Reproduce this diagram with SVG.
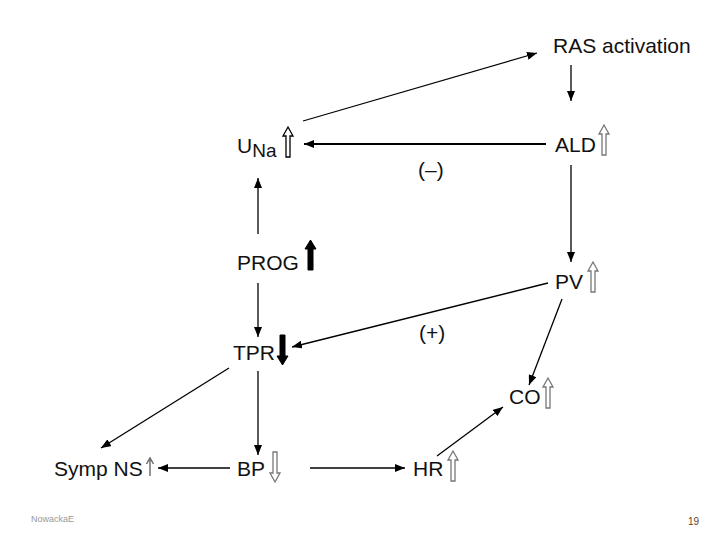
<svg xmlns="http://www.w3.org/2000/svg" xmlns:xlink="http://www.w3.org/1999/xlink" width="720" height="540" viewBox="0 0 720 540">
<defs>
<style>
.t{font-family:"Liberation Sans",Arial,sans-serif;font-size:21px;fill:#111}
.c{stroke:#000;stroke-width:1.3;fill:none;marker-end:url(#ah)}
.ch{stroke:#000;stroke-width:2;fill:none;marker-end:url(#ah)}
.hol{fill:#fff;stroke:#000;stroke-width:1.3}
.holg{fill:#fff;stroke:#777;stroke-width:1.3}
.sol{fill:#000;stroke:#000;stroke-width:1}
</style>
<marker id="ah" viewBox="0 0 10 8" refX="10" refY="4" markerWidth="10" markerHeight="8" markerUnits="userSpaceOnUse" orient="auto">
<path d="M0,0 L10,4 L0,8 Z" fill="#000"/>
</marker>
<path id="up" d="M6,0 L11,9 L8,9 L8,30 L4,30 L4,9 L1,9 Z"/>
</defs>
<rect width="720" height="540" fill="#fff"/>
<g id="connectors">
<line class="c" x1="303" y1="121" x2="537" y2="53"/>
<line class="c" x1="571" y1="65" x2="571" y2="101"/>
<line class="ch" x1="546" y1="144" x2="304" y2="144"/>
<line class="c" x1="571" y1="165" x2="571" y2="262"/>
<line class="c" x1="258" y1="234" x2="258" y2="178"/>
<line class="c" x1="258" y1="283" x2="258" y2="337"/>
<line class="c" x1="548" y1="283" x2="292" y2="347"/>
<line class="c" x1="562" y1="299" x2="529" y2="385"/>
<line class="c" x1="229" y1="368" x2="101" y2="448"/>
<line class="c" x1="258" y1="371" x2="258" y2="455"/>
<line class="c" x1="230" y1="468" x2="158" y2="468"/>
<line class="c" x1="310" y1="468" x2="405" y2="468"/>
<line class="c" x1="437" y1="456" x2="503" y2="407"/>
</g>
<g id="ras"><text class="t" x="553" y="53">RAS activation</text></g>
<g id="una"><text class="t" x="237" y="153">U<tspan font-size="19" dy="4">Na</tspan></text><use xlink:href="#up" class="hol" x="282" y="127"/></g>
<g id="ald"><text class="t" x="555" y="152">ALD</text><use xlink:href="#up" class="holg" x="598" y="125"/></g>
<g id="minus"><text class="t" x="418" y="177">(–)</text></g>
<g id="prog"><text class="t" x="237" y="270">PROG</text><path class="sol" d="M310.5,240 L316,249 L313,249 L313,270 L308,270 L308,249 L305,249 Z"/></g>
<g id="pv"><text class="t" x="555" y="289">PV</text><use xlink:href="#up" class="holg" x="587" y="262"/></g>
<g id="plus"><text class="t" x="419" y="340">(+)</text></g>
<g id="tpr"><text class="t" x="233" y="360">TPR</text><path class="sol" d="M282.5,365 L288,356 L285,356 L285,335 L280,335 L280,356 L277,356 Z"/></g>
<g id="co"><text class="t" x="509" y="404">CO</text><use xlink:href="#up" class="holg" x="542" y="378"/></g>
<g id="symp"><text class="t" x="54" y="476">Symp NS</text><path d="M150,476 L150,460 M146.5,464 L150,458 L153.5,464" stroke="#666" stroke-width="1.4" fill="none"/></g>
<g id="bp"><text class="t" x="237" y="476">BP</text><use xlink:href="#up" class="holg" transform="translate(281,482) rotate(180)"/></g>
<g id="hr"><text class="t" x="413" y="476">HR</text><use xlink:href="#up" class="holg" x="447" y="451"/></g>
<text x="31" y="522" font-family="Liberation Sans,Arial,sans-serif" font-size="9" fill="#999">NowackaE</text>
<text x="688" y="525" font-family="Liberation Sans,Arial,sans-serif" font-size="10" fill="#6a3a2a">19</text>
</svg>
